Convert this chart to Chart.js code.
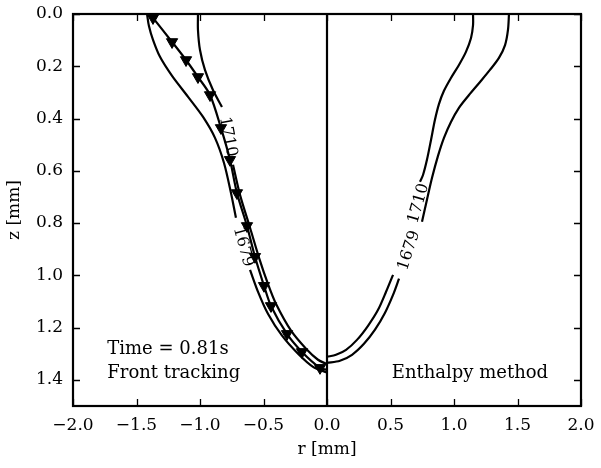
<!DOCTYPE html>
<html>
<head>
<meta charset="utf-8">
<script src="https://cdn.jsdelivr.net/npm/chart.js@4"></script>
<style>
html,body{margin:0;padding:0;background:#fff;}
#wrap{width:601px;height:468px;}
</style>
</head>
<body>
<div id="wrap"><canvas id="c" width="601" height="468"></canvas></div>
<script>
// ---- tick labels ----
const rTicks = [-2.0, -1.5, -1.0, -0.5, 0.0, 0.5, 1.0, 1.5, 2.0];
const zTicks = [0.0, 0.2, 0.4, 0.6, 0.8, 1.0, 1.2, 1.4];

// ---- Front tracking (left, triangles) ----
const ftR = [-1.370, -1.220, -1.110, -1.016, -0.921, -0.835, -0.764, -0.709, -0.630, -0.567, -0.496, -0.441, -0.315, -0.197, -0.055, 0.0];
const ftZ = [ 0.015,  0.107,  0.176,  0.241,  0.310,  0.436,  0.558,  0.685,  0.811,  0.929,  1.040,  1.117,  1.224,  1.293,  1.354, 1.362];

// ---- left contours (null = label gap) ----
const left1679R = [-1.417, -1.402, -1.370, -1.315, -1.220, -1.094, -0.976, -0.882, -0.811, -0.756, -0.717, null, -0.606, -0.543, -0.465, -0.354, -0.228, -0.110, 0.0];
const left1679Z = [ 0.000,  0.046,  0.099,  0.164,  0.237,  0.317,  0.394,  0.474,  0.570,  0.685,  0.780, null,  0.979,  1.063,  1.147,  1.231,  1.300,  1.350, 1.372];
const left1710R = [-1.016, -1.016, -1.000, -0.961, -0.898, -0.827, null, -0.740, -0.685, -0.606, -0.535, -0.465, -0.402, -0.283, -0.165, -0.071, 0.0];
const left1710Z = [ 0.000,  0.061,  0.138,  0.214,  0.291,  0.356, null,  0.577,  0.692,  0.818,  0.933,  1.033,  1.109,  1.212,  1.281,  1.323, 1.340];

// ---- right contours (Enthalpy method) ----
const right1710R = [1.150, 1.150, 1.134, 1.094, 1.039, 0.976, 0.921, 0.882, 0.850, 0.819, 0.787, 0.756, 0.732, null, 0.520, 0.465, 0.402, 0.323, 0.236, 0.150, 0.071, 0.0];
const right1710Z = [0.000, 0.042, 0.092, 0.145, 0.195, 0.245, 0.294, 0.344, 0.405, 0.482, 0.558, 0.616, 0.642, null, 0.998, 1.063, 1.132, 1.193, 1.247, 1.285, 1.304, 1.312];
const right1679R = [1.433, 1.425, 1.402, 1.354, 1.283, 1.205, 1.118, 1.039, 0.976, 0.921, 0.874, 0.827, 0.787, 0.748, null, 0.567, 0.520, 0.457, 0.378, 0.291, 0.197, 0.102, 0.0];
const right1679Z = [0.000, 0.061, 0.119, 0.168, 0.214, 0.260, 0.310, 0.359, 0.413, 0.474, 0.543, 0.627, 0.711, 0.795, null, 1.013, 1.075, 1.143, 1.208, 1.262, 1.304, 1.327, 1.335];

// ---- inline contour labels ----
const labelText  = ['1710', '1679', '1710', '1679'];
const labelR     = [-0.780, -0.661, 0.722, 0.646];
const labelZ     = [ 0.470,  0.891, 0.725, 0.905];
const labelAngle = [ 79, 75, -74, -72];

function pts(R, Z) { return R.map((r, i) => (r === null ? {x: null, y: null} : {x: r, y: Z[i]})); }

const FONT = '"DejaVu Serif", serif';
const lineBase = {showLine: true, borderColor: '#000', borderWidth: 2.2, pointRadius: 0, tension: 0.3, fill: false, spanGaps: false};

const framePlugin = {
  id: 'frame',
  afterDatasetsDraw(chart) {
    const ctx = chart.ctx, a = chart.chartArea;
    const xs = chart.scales.x, ys = chart.scales.y;
    ctx.save();
    ctx.strokeStyle = '#000';
    ctx.lineWidth = 1.3;
    const tl = 7;
    ctx.beginPath();
    xs.ticks.forEach(t => {
      const px = Math.round(xs.getPixelForValue(t.value)) + 0.5;
      ctx.moveTo(px, a.bottom); ctx.lineTo(px, a.bottom - tl);
      ctx.moveTo(px, a.top); ctx.lineTo(px, a.top + tl);
    });
    ys.ticks.forEach(t => {
      const py = Math.round(ys.getPixelForValue(t.value)) + 0.5;
      ctx.moveTo(a.left, py); ctx.lineTo(a.left + tl, py);
      ctx.moveTo(a.right, py); ctx.lineTo(a.right - tl, py);
    });
    ctx.stroke();
    ctx.lineWidth = 2.2;
    ctx.strokeRect(a.left, a.top, a.right - a.left, a.bottom - a.top);
    // contour labels
    ctx.fillStyle = '#000';
    ctx.font = '16px ' + FONT;
    ctx.textAlign = 'center';
    ctx.textBaseline = 'middle';
    labelText.forEach((txt, i) => {
      const px = xs.getPixelForValue(labelR[i]);
      const py = ys.getPixelForValue(labelZ[i]);
      ctx.save();
      ctx.translate(px, py);
      ctx.rotate(labelAngle[i] * Math.PI / 180);
      ctx.fillText(txt, 0, 0);
      ctx.restore();
    });
    // annotations
    ctx.font = '18px ' + FONT;
    ctx.textAlign = 'left';
    ctx.fillText('Time = 0.81s', xs.getPixelForValue(-1.73), ys.getPixelForValue(1.285));
    ctx.fillText('Front tracking', xs.getPixelForValue(-1.73), ys.getPixelForValue(1.375));
    ctx.fillText('Enthalpy method', xs.getPixelForValue(0.51), ys.getPixelForValue(1.375));
    ctx.restore();
  }
};

const fmt = v => (v < 0 ? '\u2212' : '') + Math.abs(v).toFixed(1);

new Chart(document.getElementById('c'), {
  type: 'scatter',
  data: {
    datasets: [
      Object.assign({}, lineBase, {data: [{x: 0, y: 0}, {x: 0, y: 1.5}], tension: 0}),
      Object.assign({}, lineBase, {data: pts(left1679R, left1679Z)}),
      Object.assign({}, lineBase, {data: pts(left1710R, left1710Z)}),
      Object.assign({}, lineBase, {data: pts(right1710R, right1710Z)}),
      Object.assign({}, lineBase, {data: pts(right1679R, right1679Z)}),
      Object.assign({}, lineBase, {
        data: pts(ftR, ftZ),
        pointStyle: 'triangle', rotation: 180,
        pointRadius: ctx => (ctx.dataIndex === ftR.length - 1 ? 0 : 6.5),
        pointBackgroundColor: '#000', pointBorderColor: '#000', pointBorderWidth: 1
      })
    ]
  },
  options: {
    responsive: false,
    animation: false,
    events: [],
    layout: {padding: {left: 0, right: 20, top: 14, bottom: 0}},
    plugins: {legend: {display: false}, tooltip: {enabled: false}},
    scales: {
      x: {
        type: 'linear', min: -2, max: 2,
        afterBuildTicks: s => { s.ticks = rTicks.map(v => ({value: v})); },
        afterFit: s => { s.height = 62; s.paddingLeft = 0; s.paddingRight = 0; },
        grid: {display: false, drawTicks: false},
        border: {display: false},
        ticks: {color: '#000', font: {family: FONT, size: 17}, padding: 9, callback: v => fmt(v), maxRotation: 0, autoSkip: false},
        title: {display: true, text: 'r [mm]', color: '#000', font: {family: FONT, size: 17}, padding: {top: 2, bottom: 8}}
      },
      y: {
        type: 'linear', min: 0, max: 1.5, reverse: true,
        afterBuildTicks: s => { s.ticks = zTicks.map(v => ({value: v})); },
        afterFit: s => { s.width = 73; s.paddingTop = 0; s.paddingBottom = 0; },
        grid: {display: false, drawTicks: false},
        border: {display: false},
        ticks: {color: '#000', font: {family: FONT, size: 17}, padding: 10, callback: v => fmt(v), autoSkip: false},
        title: {display: true, text: 'z [mm]', color: '#000', font: {family: FONT, size: 17}, padding: {top: 4, bottom: 0}}
      }
    }
  },
  plugins: [framePlugin]
});
</script>
</body>
</html>
